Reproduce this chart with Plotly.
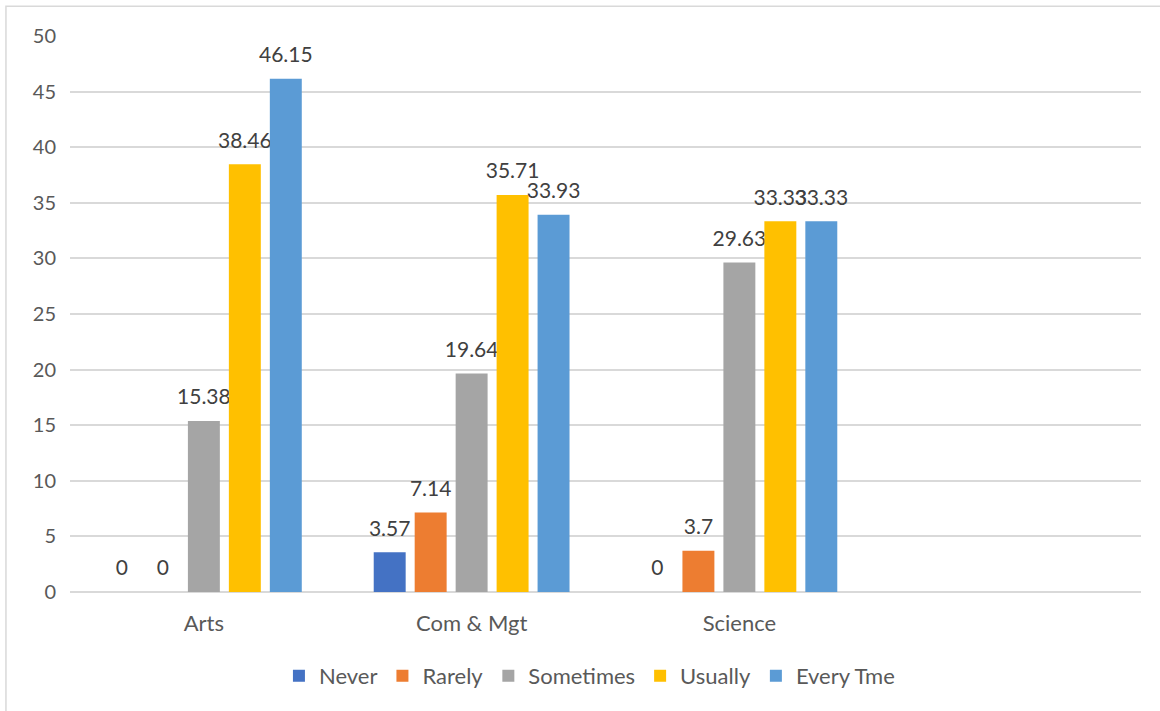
import plotly.graph_objects as go

categories = ["Arts", "Com & Mgt", "Science"]
series_names = ["Never", "Rarely", "Sometimes", "Usually", "Every Tme"]
never = [0, 3.57, 0]
rarely = [0, 7.14, 3.7]
sometimes = [15.38, 19.64, 29.63]
usually = [38.46, 35.71, 33.33]
every_time = [46.15, 33.93, 33.33]
y_ticks = [0, 5, 10, 15, 20, 25, 30, 35, 40, 45, 50]

colors = ["#4472C4", "#ED7D31", "#A5A5A5", "#FFC000", "#5B9BD5"]
values = [never, rarely, sometimes, usually, every_time]

FONT = "Lato, 'Open Sans', sans-serif"
TXT = "#595959"

fig = go.Figure()
for name, vals, col in zip(series_names, values, colors):
    fig.add_trace(go.Bar(
        name=name, x=categories, y=vals, marker=dict(color=col, line=dict(width=0)),
        text=[f"{v:g}" for v in vals],
        texttemplate="<span style='font-size:21px'>%{text}</span><br> ",
        textposition="outside", constraintext="none", cliponaxis=False,
        textfont=dict(family=FONT, size=9, color="#404040"),
    ))

fig.update_layout(
    width=1160, height=711,
    margin=dict(l=70, r=19, t=36, b=119),
    paper_bgcolor="white", plot_bgcolor="white",
    barmode="group", bargap=0.235, bargroupgap=0.22,
    font=dict(family=FONT, size=20, color=TXT),
    showlegend=True,
    legend=dict(orientation="h", x=0.485, xanchor="center", y=-0.151, yanchor="middle",
                font=dict(family=FONT, size=22, color=TXT), itemwidth=30,
                traceorder="normal"),
    xaxis=dict(range=[-0.5, 3.5], showgrid=False, showline=False, zeroline=False,
               ticks="", tickfont=dict(family=FONT, size=22, color=TXT), ticklabelstandoff=16),
    yaxis=dict(range=[0, 50], tickvals=y_ticks, showgrid=True, gridcolor="#D9D9D9", gridwidth=1.5,
               zeroline=True, zerolinecolor="#D9D9D9", zerolinewidth=1.5, showline=False,
               ticks="", tickfont=dict(family=FONT, size=20, color=TXT), ticklabelstandoff=13),
    shapes=[dict(type="rect", xref="paper", yref="paper",
                 x0=-0.0598, x1=1.05, y0=-0.3, y1=1.0534,
                 line=dict(color="#D9D9D9", width=1.5), fillcolor="rgba(0,0,0,0)", layer="below")],
)

fig.write_html("out.html", config={"displayModeBar": False},
               post_script="document.body.style.margin='0px';")
